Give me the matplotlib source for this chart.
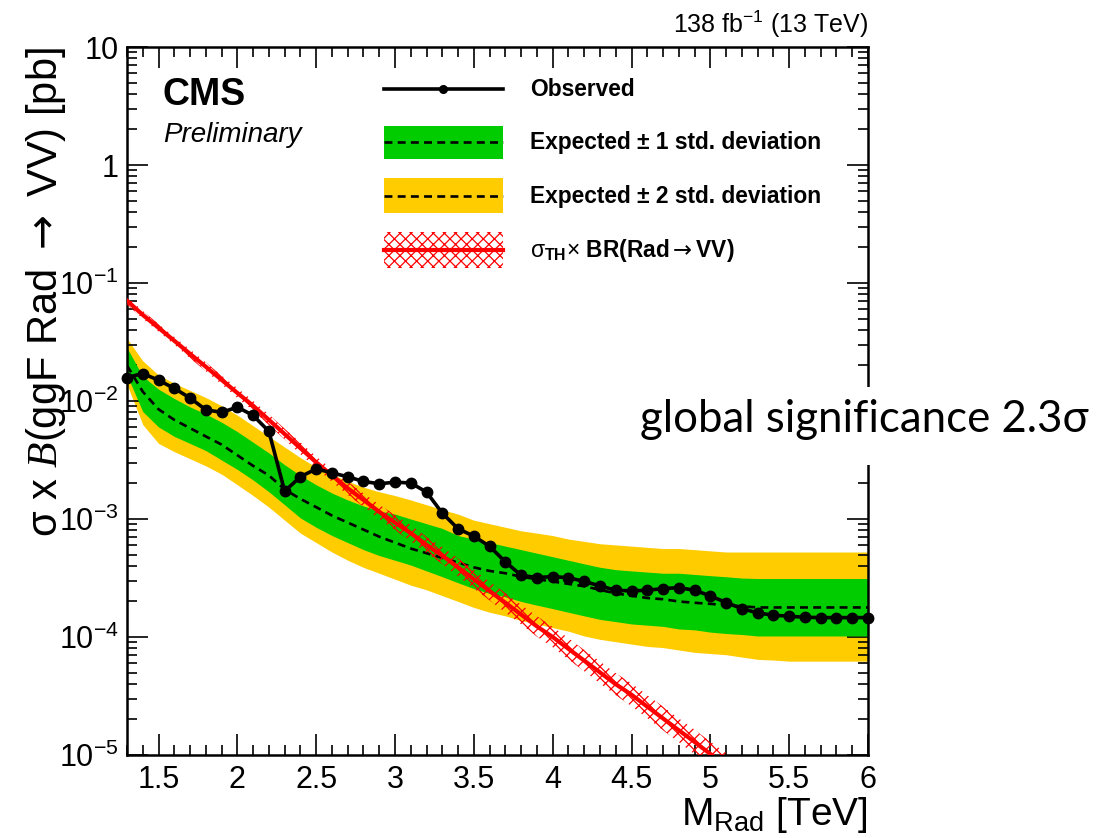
import numpy as np
import matplotlib
matplotlib.use("Agg")
import matplotlib.pyplot as plt
from matplotlib.patches import Rectangle
from matplotlib.lines import Line2D
from matplotlib.ticker import FixedLocator, FixedFormatter, MultipleLocator, NullFormatter, LogLocator

plt.rcParams["font.family"] = ["Liberation Sans", "DejaVu Sans"]
plt.rcParams["mathtext.fontset"] = "custom"
plt.rcParams["mathtext.rm"] = "Liberation Sans"
plt.rcParams["mathtext.it"] = "Liberation Sans:italic"
plt.rcParams["mathtext.bf"] = "Liberation Sans:bold"
plt.rcParams["mathtext.cal"] = "Liberation Serif:italic"
plt.rcParams["mathtext.sf"] = "DejaVu Sans"
plt.rcParams["hatch.linewidth"] = 0.9

# ---------------- data ----------------
# resonance mass grid [TeV]
mass = np.round(np.arange(1.3, 6.001, 0.1), 1)

observed = [0.0158, 0.0171, 0.0150, 0.0128, 0.0106, 0.00843, 0.00801, 0.00887, 0.00755, 0.00553,
            0.00172, 0.00228, 0.00266, 0.00246, 0.00228, 0.00208, 0.00199, 0.00205, 0.00202, 0.00169,
            0.00112, 0.000826, 0.000716, 0.000586, 0.000433, 0.000333, 0.000319, 0.000325, 0.000318, 0.000296,
            0.000271, 0.000249, 0.000246, 0.000249, 0.000257, 0.000262, 0.000249, 0.000223, 0.000196, 0.000174,
            0.000160, 0.000153, 0.000150, 0.000147, 0.000146, 0.000146, 0.000146, 0.000146]

expected = [0.0200, 0.0120, 0.00851, 0.00692, 0.00589, 0.00501, 0.00427, 0.00347, 0.00282, 0.00234,
            0.00178, 0.00148, 0.00126, 0.00107, 0.000933, 0.000813, 0.000708, 0.000631, 0.000562, 0.000513,
            0.000468, 0.000427, 0.000389, 0.000363, 0.000347, 0.000324, 0.000309, 0.000295, 0.000282, 0.000269,
            0.000251, 0.000234, 0.000224, 0.000214, 0.000209, 0.000200, 0.000195, 0.000191, 0.000186, 0.000182,
            0.000178, 0.000178, 0.000178, 0.000178, 0.000178, 0.000178, 0.000178, 0.000178]

exp_1sd_hi = [0.0282, 0.0162, 0.0126, 0.0105, 0.00891, 0.00776, 0.00661, 0.00550, 0.00447, 0.00363,
              0.00288, 0.00234, 0.00195, 0.00166, 0.00145, 0.00129, 0.00117, 0.00110, 0.00100, 0.000912,
              0.000832, 0.000724, 0.000676, 0.000631, 0.000589, 0.000550, 0.000513, 0.000479, 0.000447, 0.000417,
              0.000390, 0.000372, 0.000363, 0.000355, 0.000347, 0.000347, 0.000339, 0.000331, 0.000324, 0.000316,
              0.000313, 0.000313, 0.000313, 0.000313, 0.000313, 0.000313, 0.000313, 0.000313]

exp_1sd_lo = [0.0166, 0.00813, 0.00603, 0.00501, 0.00437, 0.00380, 0.00316, 0.00263, 0.00214, 0.00170,
              0.00132, 0.00102, 0.000851, 0.000724, 0.000631, 0.000550, 0.000490, 0.000447, 0.000407, 0.000363,
              0.000324, 0.000288, 0.000257, 0.000234, 0.000219, 0.000200, 0.000186, 0.000174, 0.000162, 0.000151,
              0.000141, 0.000135, 0.000129, 0.000126, 0.000123, 0.000117, 0.000115, 0.000110, 0.000107, 0.000105,
              0.000102, 0.000102, 0.000102, 0.000102, 0.000102, 0.000102, 0.000102, 0.000102]

exp_2sd_hi = [0.0339, 0.0219, 0.0166, 0.0141, 0.0123, 0.0107, 0.00912, 0.00759, 0.00617, 0.00501,
              0.00407, 0.00331, 0.00275, 0.00240, 0.00209, 0.00186, 0.00170, 0.00158, 0.00145, 0.00132,
              0.00120, 0.00110, 0.000977, 0.000912, 0.000851, 0.000794, 0.000759, 0.000724, 0.000676, 0.000646,
              0.000617, 0.000603, 0.000589, 0.000575, 0.000562, 0.000562, 0.000550, 0.000537, 0.000525, 0.000525,
              0.000525, 0.000525, 0.000525, 0.000525, 0.000525, 0.000525, 0.000525, 0.000525]

exp_2sd_lo = [0.0138, 0.00631, 0.00437, 0.00372, 0.00324, 0.00282, 0.00240, 0.00195, 0.00158, 0.00126,
              0.000977, 0.000759, 0.000631, 0.000525, 0.000447, 0.000389, 0.000347, 0.000309, 0.000275, 0.000251,
              0.000224, 0.000200, 0.000178, 0.000162, 0.000151, 0.000138, 0.000129, 0.000120, 0.000112, 0.000102,
              9.55e-5, 9.12e-5, 8.71e-5, 8.32e-5, 8.13e-5, 7.76e-5, 7.41e-5, 7.24e-5, 7.08e-5, 6.76e-5,
              6.46e-5, 6.38e-5, 6.24e-5, 6.24e-5, 6.24e-5, 6.24e-5, 6.24e-5, 6.24e-5]

# theory prediction sigma_TH x BR(Rad -> VV)
theory_mass = np.round(np.arange(1.3, 5.101, 0.1), 1)
theory = [0.0708, 0.0537, 0.0417, 0.0324, 0.0251, 0.0195, 0.0151, 0.0117, 0.00912, 0.00692,
          0.00525, 0.00398, 0.00302, 0.00234, 0.00182, 0.00145, 0.00115, 0.000933, 0.000759, 0.000603,
          0.000490, 0.000389, 0.000309, 0.000245, 0.000195, 0.000155, 0.000123, 0.000100, 7.94e-5, 6.31e-5,
          5.01e-5, 3.98e-5, 3.24e-5, 2.57e-5, 2.04e-5, 1.62e-5, 1.29e-5, 1.02e-5, 8.13e-6]
theory_rel_unc = [0.08, 0.08, 0.08, 0.08, 0.09, 0.09, 0.09, 0.10, 0.10, 0.11,
                  0.11, 0.12, 0.12, 0.13, 0.14, 0.14, 0.15, 0.16, 0.17, 0.17,
                  0.18, 0.19, 0.20, 0.20, 0.21, 0.21, 0.22, 0.22, 0.23, 0.23,
                  0.24, 0.24, 0.25, 0.25, 0.26, 0.26, 0.27, 0.27, 0.28]

x_ticks = [1.5, 2.0, 2.5, 3.0, 3.5, 4.0, 4.5, 5.0, 5.5, 6.0]
x_tick_labels = ["1.5", "2", "2.5", "3", "3.5", "4", "4.5", "5", "5.5", "6"]
y_ticks = [1e-5, 1e-4, 1e-3, 1e-2, 1e-1, 1, 10]
y_tick_labels = [r"$10^{-5}$", r"$10^{-4}$", r"$10^{-3}$", r"$10^{-2}$", r"$10^{-1}$", "1", "10"]

YELLOW = "#FFCC00"
GREEN = "#00CC00"
RED = "#FF0000"
DASH = (0, (3.0, 2.0))

# ---------------- figure ----------------
W, H = 1117, 838
fig = plt.figure(figsize=(W / 100, H / 100), dpi=100)


def fx(px):
    return px / W


def fy(py):
    return 1 - py / H


ax = fig.add_axes([fx(127), fy(755), 741 / W, 708 / H])
ax.set_yscale("log")
ax.set_xlim(1.3, 6.0)
ax.set_ylim(1e-5, 10)

th = np.array(theory)
unc = np.array(theory_rel_unc)

ax.fill_between(mass, exp_2sd_lo, exp_2sd_hi, color=YELLOW, lw=0, zorder=1)
ax.fill_between(mass, exp_1sd_lo, exp_1sd_hi, color=GREEN, lw=0, zorder=2)
ax.plot(mass, expected, color="k", lw=1.9, ls=DASH, zorder=3)
ax.fill_between(theory_mass, th / (1 + unc), th * (1 + unc), facecolor="none",
                edgecolor=RED, hatch="xxx", lw=0, zorder=4)
ax.plot(theory_mass, th, color=RED, lw=3.0, zorder=5)
ax.plot(mass, observed, color="k", lw=2.6, marker="o", ms=7.5, zorder=6, clip_on=False)

# axes styling
for s in ax.spines.values():
    s.set_linewidth(1.8)
ax.xaxis.set_major_locator(FixedLocator(x_ticks))
ax.xaxis.set_major_formatter(FixedFormatter(x_tick_labels))
ax.xaxis.set_minor_locator(MultipleLocator(0.1))
ax.yaxis.set_major_locator(FixedLocator(y_ticks))
ax.yaxis.set_major_formatter(FixedFormatter(y_tick_labels))
ax.yaxis.set_minor_locator(LogLocator(base=10, subs=np.arange(2, 10), numticks=20))
ax.yaxis.set_minor_formatter(NullFormatter())
ax.tick_params(which="both", direction="in", top=True, right=True, width=1.2)
ax.tick_params(which="major", length=15, labelsize=22)
ax.tick_params(which="minor", length=7.5)
ax.tick_params(axis="x", which="major", pad=7)
ax.tick_params(axis="y", which="major", pad=6)

ax.set_xlabel(r"M$_{\mathrm{Rad}}$ [TeV]", fontsize=28, loc="right")
ax.xaxis.set_label_coords(1.0, (755 - 795) / 708)
ax.set_ylabel(r"σ x $\mathcal{B}$(ggF Rad $\mathsf{\rightarrow}$ VV) [pb]", fontsize=30, loc="top")
ax.yaxis.set_label_coords((68 - 127) / 741, 1.0)

# header texts
fig.text(fx(163), fy(105), "CMS", fontsize=27, weight="bold", ha="left", va="baseline")
fig.text(fx(163), fy(142), "Preliminary", fontsize=20, style="italic", ha="left", va="baseline")
fig.text(fx(868), fy(33), r"138 fb$^{-1}$ (13 TeV)", fontsize=18, ha="right", va="baseline")

# legend
LX0, LX1 = 384, 503
fig.add_artist(Line2D([fx(LX0), fx(LX1)], [fy(89)] * 2, color="k", lw=2.6, transform=fig.transFigure))
fig.add_artist(Line2D([fx(443)], [fy(89)], color="k", marker="o", ms=5.5, transform=fig.transFigure))
fig.add_artist(Rectangle((fx(LX0), fy(159)), (LX1 - LX0) / W, 33 / H, facecolor=GREEN, lw=0,
                         transform=fig.transFigure))
fig.add_artist(Line2D([fx(LX0), fx(LX1)], [fy(142)] * 2, color="k", lw=1.9, ls=DASH,
                      transform=fig.transFigure))
fig.add_artist(Rectangle((fx(LX0), fy(213)), (LX1 - LX0) / W, 35 / H, facecolor=YELLOW, lw=0,
                         transform=fig.transFigure))
fig.add_artist(Line2D([fx(LX0), fx(LX1)], [fy(196)] * 2, color="k", lw=1.9, ls=DASH,
                      transform=fig.transFigure))
fig.add_artist(Rectangle((fx(LX0), fy(268)), (LX1 - LX0) / W, 36 / H, facecolor="none", edgecolor=RED,
                         hatch="xxx", lw=0, transform=fig.transFigure))
fig.add_artist(Line2D([fx(LX0), fx(LX1)], [fy(250)] * 2, color=RED, lw=3.0, transform=fig.transFigure))

legend_font = 16.4
fig.text(fx(530), fy(90), "Observed", fontsize=legend_font, weight="bold", va="center")
fig.text(fx(530), fy(142), "Expected ± 1 std. deviation", fontsize=legend_font, weight="bold", va="center")
fig.text(fx(530), fy(196), "Expected ± 2 std. deviation", fontsize=legend_font, weight="bold", va="center")
fig.text(fx(530), fy(250),
         r"$\mathrm{\sigma}_{\mathbf{TH}}$× $\mathbf{BR(Rad}\mathsf{\rightarrow}\mathbf{VV)}$",
         fontsize=legend_font, va="center")

# significance note
fig.add_artist(Rectangle((fx(625), fy(465)), (W - 625) / W, (465 - 387) / H, facecolor="white", lw=0,
                         transform=fig.transFigure, zorder=5))
fig.text(fx(640), fy(432), "global significance 2.3σ", fontsize=31.5, family=["Lato", "DejaVu Sans"],
         ha="left", va="baseline", zorder=6)

fig.savefig("out.png", dpi=100)
